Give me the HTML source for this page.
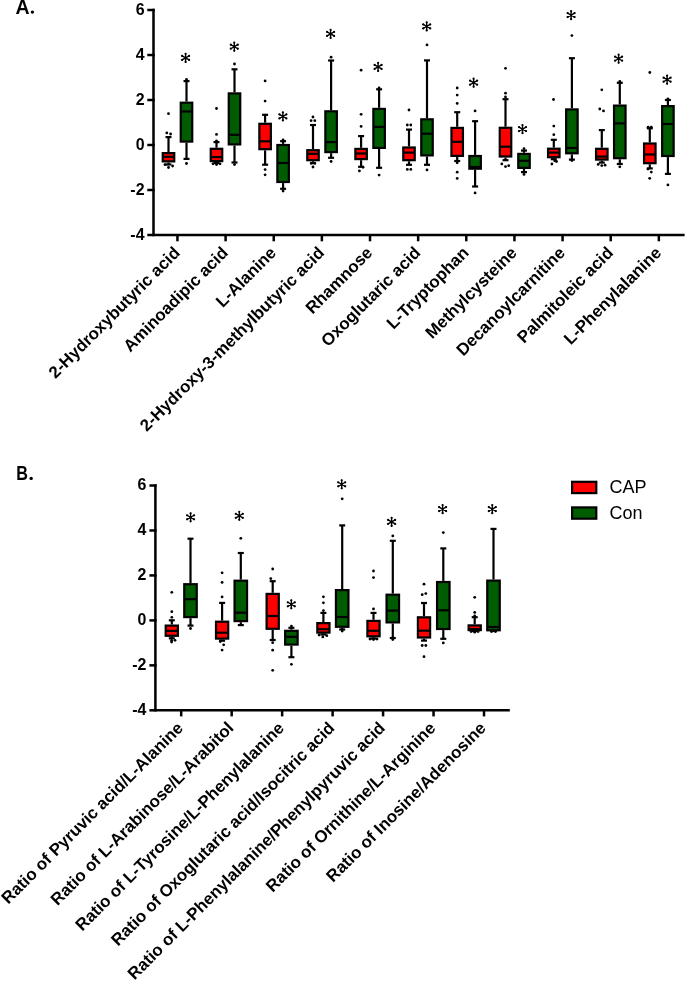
<!DOCTYPE html>
<html><head><meta charset="utf-8"><title>Box plots</title>
<style>
html,body{margin:0;padding:0;background:#fff;}
body{width:685px;height:981px;overflow:hidden;}
svg{display:block;will-change:transform;}
text{font-family:"Liberation Sans",sans-serif;}
.ax path{stroke:#000;stroke-width:2.5;fill:none;stroke-linecap:butt;}
.k{stroke:#000;stroke-width:2.2;}
.ast{stroke:#000;stroke-width:1.35;fill:none;stroke-linecap:round;}
.yt{font-size:16.8px;font-weight:bold;text-anchor:end;}
.xl{font-size:16.9px;font-weight:bold;text-anchor:end;}
.lg{font-size:18px;}
.pl{font-size:19px;font-weight:bold;}
</style></head>
<body>
<svg width="685" height="981" viewBox="0 0 685 981">
<rect width="685" height="981" fill="#fff"/>
<g class="ax">
<path d="M153.5 8.75V235.1H684.6"/>
<path d="M147.3 10H154.7"/>
<path d="M147.3 55H154.7"/>
<path d="M147.3 100H154.7"/>
<path d="M147.3 145H154.7"/>
<path d="M147.3 190H154.7"/>
<path d="M147.3 235H154.7"/>
<path d="M177.45 235V241.3"/>
<path d="M225.59 235V241.3"/>
<path d="M273.73 235V241.3"/>
<path d="M321.87 235V241.3"/>
<path d="M370.01 235V241.3"/>
<path d="M418.15 235V241.3"/>
<path d="M466.29 235V241.3"/>
<path d="M514.43 235V241.3"/>
<path d="M562.57 235V241.3"/>
<path d="M610.71 235V241.3"/>
<path d="M658.85 235V241.3"/>
</g>
<text transform="translate(144.5 14.8) scale(0.95 1)" class="yt">6</text>
<text transform="translate(144.5 59.8) scale(0.95 1)" class="yt">4</text>
<text transform="translate(144.5 104.8) scale(0.95 1)" class="yt">2</text>
<text transform="translate(144.5 149.8) scale(0.95 1)" class="yt">0</text>
<text transform="translate(144.5 194.8) scale(0.95 1)" class="yt">-2</text>
<text transform="translate(144.5 239.8) scale(0.95 1)" class="yt">-4</text>
<line x1="168.5" y1="137.1" x2="168.5" y2="152" class="k"/>
<line x1="168.5" y1="162.5" x2="168.5" y2="164.5" class="k"/>
<line x1="165.5" y1="137.1" x2="171.5" y2="137.1" class="k"/>
<line x1="165.5" y1="164.5" x2="171.5" y2="164.5" class="k"/>
<rect x="162.75" y="153.1" width="11.5" height="8.3" fill="#ff0000" class="k"/>
<line x1="162.75" y1="156.8" x2="174.25" y2="156.8" class="k"/>
<circle cx="166.8" cy="132.9" r="1.4"/>
<circle cx="170.6" cy="134" r="1.4"/>
<circle cx="168.5" cy="113.7" r="1.4"/>
<circle cx="165" cy="164.7" r="1.4"/>
<circle cx="172.6" cy="166" r="1.4"/>
<circle cx="168.5" cy="167.5" r="1.4"/>
<line x1="186.5" y1="81.1" x2="186.5" y2="101.6" class="k"/>
<line x1="186.5" y1="142.7" x2="186.5" y2="158.9" class="k"/>
<line x1="183.5" y1="81.1" x2="189.5" y2="81.1" class="k"/>
<line x1="183.5" y1="158.9" x2="189.5" y2="158.9" class="k"/>
<rect x="180.75" y="102.7" width="11.5" height="38.9" fill="#005c00" class="k"/>
<line x1="180.75" y1="111.5" x2="192.25" y2="111.5" class="k"/>
<circle cx="186.5" cy="79.4" r="1.4"/>
<circle cx="186.5" cy="163.5" r="1.4"/>
<path d="M185.6 61.95L185.6 53.85M182.09 59.92L189.11 55.88M182.09 55.88L189.11 59.92" class="ast"/><circle cx="185.6" cy="61.95" r="1.12"/><circle cx="185.6" cy="53.85" r="1.12"/><circle cx="182.09" cy="59.92" r="1.12"/><circle cx="189.11" cy="55.88" r="1.12"/><circle cx="182.09" cy="55.88" r="1.12"/><circle cx="189.11" cy="59.92" r="1.12"/><circle cx="185.6" cy="57.9" r="1.25"/>
<line x1="216.5" y1="142.1" x2="216.5" y2="147.7" class="k"/>
<line x1="216.5" y1="162.2" x2="216.5" y2="163" class="k"/>
<line x1="213.5" y1="142.1" x2="219.5" y2="142.1" class="k"/>
<line x1="213.5" y1="163" x2="219.5" y2="163" class="k"/>
<rect x="210.75" y="148.8" width="11.5" height="12.3" fill="#ff0000" class="k"/>
<line x1="210.75" y1="157.1" x2="222.25" y2="157.1" class="k"/>
<circle cx="216.5" cy="108.5" r="1.4"/>
<circle cx="216.5" cy="134.4" r="1.4"/>
<circle cx="216.5" cy="140.8" r="1.4"/>
<circle cx="213" cy="163.8" r="1.4"/>
<circle cx="216.5" cy="164.5" r="1.4"/>
<circle cx="220" cy="163.8" r="1.4"/>
<line x1="234.5" y1="69.3" x2="234.5" y2="92.3" class="k"/>
<line x1="234.5" y1="145.5" x2="234.5" y2="162.5" class="k"/>
<line x1="231.5" y1="69.3" x2="237.5" y2="69.3" class="k"/>
<line x1="231.5" y1="162.5" x2="237.5" y2="162.5" class="k"/>
<rect x="228.75" y="93.4" width="11.5" height="51" fill="#005c00" class="k"/>
<line x1="228.75" y1="134.8" x2="240.25" y2="134.8" class="k"/>
<circle cx="234.5" cy="64" r="1.4"/>
<circle cx="234.5" cy="164.6" r="1.4"/>
<path d="M234.3 50.75L234.3 42.65M230.79 48.73L237.81 44.68M230.79 44.68L237.81 48.73" class="ast"/><circle cx="234.3" cy="50.75" r="1.12"/><circle cx="234.3" cy="42.65" r="1.12"/><circle cx="230.79" cy="48.73" r="1.12"/><circle cx="237.81" cy="44.68" r="1.12"/><circle cx="230.79" cy="44.68" r="1.12"/><circle cx="237.81" cy="48.73" r="1.12"/><circle cx="234.3" cy="46.7" r="1.25"/>
<line x1="265.1" y1="114.8" x2="265.1" y2="122.7" class="k"/>
<line x1="265.1" y1="150.3" x2="265.1" y2="164.7" class="k"/>
<line x1="262.1" y1="114.8" x2="268.1" y2="114.8" class="k"/>
<line x1="262.1" y1="164.7" x2="268.1" y2="164.7" class="k"/>
<rect x="259.35" y="123.8" width="11.5" height="25.4" fill="#ff0000" class="k"/>
<line x1="259.35" y1="141.3" x2="270.85" y2="141.3" class="k"/>
<circle cx="265.1" cy="80.9" r="1.4"/>
<circle cx="265.1" cy="101.1" r="1.4"/>
<circle cx="265.1" cy="169.6" r="1.4"/>
<circle cx="265.1" cy="174.8" r="1.4"/>
<line x1="283.1" y1="141.2" x2="283.1" y2="143.9" class="k"/>
<line x1="283.1" y1="183.1" x2="283.1" y2="188.8" class="k"/>
<line x1="280.1" y1="141.2" x2="286.1" y2="141.2" class="k"/>
<line x1="280.1" y1="188.8" x2="286.1" y2="188.8" class="k"/>
<rect x="277.35" y="145" width="11.5" height="37" fill="#005c00" class="k"/>
<line x1="277.35" y1="163" x2="288.85" y2="163" class="k"/>
<circle cx="283.1" cy="139.9" r="1.4"/>
<circle cx="283.1" cy="191" r="1.4"/>
<path d="M282.9 120.45L282.9 112.35M279.39 118.43L286.41 114.38M279.39 114.38L286.41 118.43" class="ast"/><circle cx="282.9" cy="120.45" r="1.12"/><circle cx="282.9" cy="112.35" r="1.12"/><circle cx="279.39" cy="118.43" r="1.12"/><circle cx="286.41" cy="114.38" r="1.12"/><circle cx="279.39" cy="114.38" r="1.12"/><circle cx="286.41" cy="118.43" r="1.12"/><circle cx="282.9" cy="116.4" r="1.25"/>
<line x1="313" y1="125" x2="313" y2="149.1" class="k"/>
<line x1="313" y1="161.3" x2="313" y2="163" class="k"/>
<line x1="310" y1="125" x2="316" y2="125" class="k"/>
<line x1="310" y1="163" x2="316" y2="163" class="k"/>
<rect x="307.25" y="150.2" width="11.5" height="10" fill="#ff0000" class="k"/>
<line x1="307.25" y1="153.8" x2="318.75" y2="153.8" class="k"/>
<circle cx="313" cy="117" r="1.4"/>
<circle cx="311.1" cy="120.7" r="1.4"/>
<circle cx="314.8" cy="120.7" r="1.4"/>
<circle cx="311.3" cy="163.4" r="1.4"/>
<circle cx="314.8" cy="163.4" r="1.4"/>
<circle cx="313" cy="167" r="1.4"/>
<line x1="331.1" y1="60.5" x2="331.1" y2="110.2" class="k"/>
<line x1="331.1" y1="153.2" x2="331.1" y2="157.8" class="k"/>
<line x1="328.1" y1="60.5" x2="334.1" y2="60.5" class="k"/>
<line x1="328.1" y1="157.8" x2="334.1" y2="157.8" class="k"/>
<rect x="325.35" y="111.3" width="11.5" height="40.8" fill="#005c00" class="k"/>
<line x1="325.35" y1="142.1" x2="336.85" y2="142.1" class="k"/>
<circle cx="331.1" cy="57.2" r="1.4"/>
<circle cx="331.1" cy="161.5" r="1.4"/>
<path d="M330.6 37.95L330.6 29.85M327.09 35.92L334.11 31.88M327.09 31.88L334.11 35.92" class="ast"/><circle cx="330.6" cy="37.95" r="1.12"/><circle cx="330.6" cy="29.85" r="1.12"/><circle cx="327.09" cy="35.92" r="1.12"/><circle cx="334.11" cy="31.88" r="1.12"/><circle cx="327.09" cy="31.88" r="1.12"/><circle cx="334.11" cy="35.92" r="1.12"/><circle cx="330.6" cy="33.9" r="1.25"/>
<line x1="361.1" y1="136.1" x2="361.1" y2="147.8" class="k"/>
<line x1="361.1" y1="160.2" x2="361.1" y2="166.8" class="k"/>
<line x1="358.1" y1="136.1" x2="364.1" y2="136.1" class="k"/>
<line x1="358.1" y1="166.8" x2="364.1" y2="166.8" class="k"/>
<rect x="355.35" y="148.9" width="11.5" height="10.2" fill="#ff0000" class="k"/>
<line x1="355.35" y1="153.5" x2="366.85" y2="153.5" class="k"/>
<circle cx="361.1" cy="70.2" r="1.4"/>
<circle cx="361.1" cy="114.3" r="1.4"/>
<circle cx="361.1" cy="126.4" r="1.4"/>
<circle cx="359.4" cy="170.9" r="1.4"/>
<circle cx="363" cy="167.3" r="1.4"/>
<line x1="379.1" y1="89.3" x2="379.1" y2="107.8" class="k"/>
<line x1="379.1" y1="149" x2="379.1" y2="167.8" class="k"/>
<line x1="376.1" y1="89.3" x2="382.1" y2="89.3" class="k"/>
<line x1="376.1" y1="167.8" x2="382.1" y2="167.8" class="k"/>
<rect x="373.35" y="108.9" width="11.5" height="39" fill="#005c00" class="k"/>
<line x1="373.35" y1="126.9" x2="384.85" y2="126.9" class="k"/>
<circle cx="379.1" cy="88" r="1.4"/>
<circle cx="379.1" cy="175.1" r="1.4"/>
<path d="M378.1 70.95L378.1 62.85M374.59 68.93L381.61 64.88M374.59 64.88L381.61 68.93" class="ast"/><circle cx="378.1" cy="70.95" r="1.12"/><circle cx="378.1" cy="62.85" r="1.12"/><circle cx="374.59" cy="68.93" r="1.12"/><circle cx="381.61" cy="64.88" r="1.12"/><circle cx="374.59" cy="64.88" r="1.12"/><circle cx="381.61" cy="68.93" r="1.12"/><circle cx="378.1" cy="66.9" r="1.25"/>
<line x1="409" y1="129.6" x2="409" y2="146.4" class="k"/>
<line x1="409" y1="161.3" x2="409" y2="164.8" class="k"/>
<line x1="406" y1="129.6" x2="412" y2="129.6" class="k"/>
<line x1="406" y1="164.8" x2="412" y2="164.8" class="k"/>
<rect x="403.25" y="147.5" width="11.5" height="12.7" fill="#ff0000" class="k"/>
<line x1="403.25" y1="152.6" x2="414.75" y2="152.6" class="k"/>
<circle cx="409" cy="110" r="1.4"/>
<circle cx="407.3" cy="125" r="1.4"/>
<circle cx="410.8" cy="125" r="1.4"/>
<circle cx="407.3" cy="169.4" r="1.4"/>
<circle cx="410.8" cy="169.4" r="1.4"/>
<line x1="427" y1="60.4" x2="427" y2="118.2" class="k"/>
<line x1="427" y1="156.5" x2="427" y2="164.8" class="k"/>
<line x1="424" y1="60.4" x2="430" y2="60.4" class="k"/>
<line x1="424" y1="164.8" x2="430" y2="164.8" class="k"/>
<rect x="421.25" y="119.3" width="11.5" height="36.1" fill="#005c00" class="k"/>
<line x1="421.25" y1="133.7" x2="432.75" y2="133.7" class="k"/>
<circle cx="427" cy="44.9" r="1.4"/>
<circle cx="427" cy="169.9" r="1.4"/>
<path d="M426.7 30.45L426.7 22.35M423.19 28.42L430.21 24.38M423.19 24.38L430.21 28.42" class="ast"/><circle cx="426.7" cy="30.45" r="1.12"/><circle cx="426.7" cy="22.35" r="1.12"/><circle cx="423.19" cy="28.42" r="1.12"/><circle cx="430.21" cy="24.38" r="1.12"/><circle cx="423.19" cy="24.38" r="1.12"/><circle cx="430.21" cy="28.42" r="1.12"/><circle cx="426.7" cy="26.4" r="1.25"/>
<line x1="457.2" y1="112.2" x2="457.2" y2="126.8" class="k"/>
<line x1="457.2" y1="157" x2="457.2" y2="161" class="k"/>
<line x1="454.2" y1="112.2" x2="460.2" y2="112.2" class="k"/>
<line x1="454.2" y1="161" x2="460.2" y2="161" class="k"/>
<rect x="451.45" y="127.9" width="11.5" height="28" fill="#ff0000" class="k"/>
<line x1="451.45" y1="141.8" x2="462.95" y2="141.8" class="k"/>
<circle cx="457.2" cy="88" r="1.4"/>
<circle cx="457.2" cy="95.1" r="1.4"/>
<circle cx="457.2" cy="103.4" r="1.4"/>
<circle cx="457.2" cy="162.8" r="1.4"/>
<circle cx="457.2" cy="172.2" r="1.4"/>
<circle cx="457.2" cy="178.4" r="1.4"/>
<line x1="475.1" y1="121.2" x2="475.1" y2="154.9" class="k"/>
<line x1="475.1" y1="169.8" x2="475.1" y2="186.5" class="k"/>
<line x1="472.1" y1="121.2" x2="478.1" y2="121.2" class="k"/>
<line x1="472.1" y1="186.5" x2="478.1" y2="186.5" class="k"/>
<rect x="469.35" y="156" width="11.5" height="12.7" fill="#005c00" class="k"/>
<line x1="469.35" y1="167" x2="480.85" y2="167" class="k"/>
<circle cx="475.1" cy="110.9" r="1.4"/>
<circle cx="475.1" cy="192.9" r="1.4"/>
<path d="M473.6 86.75L473.6 78.65M470.09 84.73L477.11 80.67M470.09 80.67L477.11 84.73" class="ast"/><circle cx="473.6" cy="86.75" r="1.12"/><circle cx="473.6" cy="78.65" r="1.12"/><circle cx="470.09" cy="84.73" r="1.12"/><circle cx="477.11" cy="80.67" r="1.12"/><circle cx="470.09" cy="80.67" r="1.12"/><circle cx="477.11" cy="84.73" r="1.12"/><circle cx="473.6" cy="82.7" r="1.25"/>
<line x1="505.5" y1="99.2" x2="505.5" y2="126.7" class="k"/>
<line x1="505.5" y1="157.6" x2="505.5" y2="160.2" class="k"/>
<line x1="502.5" y1="99.2" x2="508.5" y2="99.2" class="k"/>
<line x1="502.5" y1="160.2" x2="508.5" y2="160.2" class="k"/>
<rect x="499.75" y="127.8" width="11.5" height="28.7" fill="#ff0000" class="k"/>
<line x1="499.75" y1="146.7" x2="511.25" y2="146.7" class="k"/>
<circle cx="505.5" cy="68.3" r="1.4"/>
<circle cx="505.5" cy="93.2" r="1.4"/>
<circle cx="505.5" cy="96.9" r="1.4"/>
<circle cx="501.8" cy="163.9" r="1.4"/>
<circle cx="505.5" cy="166.6" r="1.4"/>
<circle cx="508.7" cy="165.7" r="1.4"/>
<line x1="524" y1="150.6" x2="524" y2="152.8" class="k"/>
<line x1="524" y1="169" x2="524" y2="172.1" class="k"/>
<line x1="521" y1="150.6" x2="527" y2="150.6" class="k"/>
<line x1="521" y1="172.1" x2="527" y2="172.1" class="k"/>
<rect x="518.25" y="153.9" width="11.5" height="14" fill="#005c00" class="k"/>
<line x1="518.25" y1="160.8" x2="529.75" y2="160.8" class="k"/>
<circle cx="524" cy="148.7" r="1.4"/>
<circle cx="524" cy="174.4" r="1.4"/>
<path d="M522.5 133.15L522.5 125.05M518.99 131.12L526.01 127.07M518.99 127.07L526.01 131.12" class="ast"/><circle cx="522.5" cy="133.15" r="1.12"/><circle cx="522.5" cy="125.05" r="1.12"/><circle cx="518.99" cy="131.12" r="1.12"/><circle cx="526.01" cy="127.07" r="1.12"/><circle cx="518.99" cy="127.07" r="1.12"/><circle cx="526.01" cy="131.12" r="1.12"/><circle cx="522.5" cy="129.1" r="1.25"/>
<line x1="553.8" y1="139.8" x2="553.8" y2="147.6" class="k"/>
<line x1="553.8" y1="158.3" x2="553.8" y2="159.2" class="k"/>
<line x1="550.8" y1="139.8" x2="556.8" y2="139.8" class="k"/>
<line x1="550.8" y1="159.2" x2="556.8" y2="159.2" class="k"/>
<rect x="548.05" y="148.7" width="11.5" height="8.5" fill="#ff0000" class="k"/>
<line x1="548.05" y1="152.6" x2="559.55" y2="152.6" class="k"/>
<circle cx="553.5" cy="99.5" r="1.4"/>
<circle cx="553.8" cy="126.1" r="1.4"/>
<circle cx="553.8" cy="134.7" r="1.4"/>
<circle cx="551.9" cy="164" r="1.4"/>
<circle cx="554.7" cy="160.8" r="1.4"/>
<circle cx="556.5" cy="161.5" r="1.4"/>
<line x1="571.9" y1="58.2" x2="571.9" y2="108.3" class="k"/>
<line x1="571.9" y1="154.4" x2="571.9" y2="159.6" class="k"/>
<line x1="568.9" y1="58.2" x2="574.9" y2="58.2" class="k"/>
<line x1="568.9" y1="159.6" x2="574.9" y2="159.6" class="k"/>
<rect x="566.15" y="109.4" width="11.5" height="43.9" fill="#005c00" class="k"/>
<line x1="566.15" y1="147.9" x2="577.65" y2="147.9" class="k"/>
<circle cx="571.9" cy="35.6" r="1.4"/>
<circle cx="571.9" cy="160.5" r="1.4"/>
<path d="M571.1 19.15L571.1 11.05M567.59 17.12L574.61 13.07M567.59 13.07L574.61 17.12" class="ast"/><circle cx="571.1" cy="19.15" r="1.12"/><circle cx="571.1" cy="11.05" r="1.12"/><circle cx="567.59" cy="17.12" r="1.12"/><circle cx="574.61" cy="13.07" r="1.12"/><circle cx="567.59" cy="13.07" r="1.12"/><circle cx="574.61" cy="17.12" r="1.12"/><circle cx="571.1" cy="15.1" r="1.25"/>
<line x1="601.8" y1="130.1" x2="601.8" y2="147.7" class="k"/>
<line x1="601.8" y1="160.7" x2="601.8" y2="162.6" class="k"/>
<line x1="598.8" y1="130.1" x2="604.8" y2="130.1" class="k"/>
<line x1="598.8" y1="162.6" x2="604.8" y2="162.6" class="k"/>
<rect x="596.05" y="148.8" width="11.5" height="10.8" fill="#ff0000" class="k"/>
<line x1="596.05" y1="156.6" x2="607.55" y2="156.6" class="k"/>
<circle cx="601.8" cy="89.8" r="1.4"/>
<circle cx="599.8" cy="109" r="1.4"/>
<circle cx="603.5" cy="110.9" r="1.4"/>
<circle cx="598.2" cy="164.4" r="1.4"/>
<circle cx="601.8" cy="165.6" r="1.4"/>
<circle cx="605.1" cy="165.2" r="1.4"/>
<line x1="619.8" y1="82.8" x2="619.8" y2="104.5" class="k"/>
<line x1="619.8" y1="159.3" x2="619.8" y2="164" class="k"/>
<line x1="616.8" y1="82.8" x2="622.8" y2="82.8" class="k"/>
<line x1="616.8" y1="164" x2="622.8" y2="164" class="k"/>
<rect x="614.05" y="105.6" width="11.5" height="52.6" fill="#005c00" class="k"/>
<line x1="614.05" y1="123.4" x2="625.55" y2="123.4" class="k"/>
<circle cx="619.8" cy="81.5" r="1.4"/>
<circle cx="619.8" cy="166.8" r="1.4"/>
<path d="M618.6 62.75L618.6 54.65M615.09 60.73L622.11 56.68M615.09 56.68L622.11 60.73" class="ast"/><circle cx="618.6" cy="62.75" r="1.12"/><circle cx="618.6" cy="54.65" r="1.12"/><circle cx="615.09" cy="60.73" r="1.12"/><circle cx="622.11" cy="56.68" r="1.12"/><circle cx="615.09" cy="56.68" r="1.12"/><circle cx="622.11" cy="60.73" r="1.12"/><circle cx="618.6" cy="58.7" r="1.25"/>
<line x1="649.8" y1="128.3" x2="649.8" y2="142.4" class="k"/>
<line x1="649.8" y1="164.3" x2="649.8" y2="168.4" class="k"/>
<line x1="646.8" y1="128.3" x2="652.8" y2="128.3" class="k"/>
<line x1="646.8" y1="168.4" x2="652.8" y2="168.4" class="k"/>
<rect x="644.05" y="143.5" width="11.5" height="19.7" fill="#ff0000" class="k"/>
<line x1="644.05" y1="154.5" x2="655.55" y2="154.5" class="k"/>
<circle cx="648.2" cy="127.2" r="1.4"/>
<circle cx="651.3" cy="127.2" r="1.4"/>
<circle cx="649.8" cy="72.5" r="1.4"/>
<circle cx="651.3" cy="172.1" r="1.4"/>
<circle cx="648" cy="169.1" r="1.4"/>
<circle cx="649.7" cy="178.3" r="1.4"/>
<line x1="667.9" y1="100" x2="667.9" y2="105" class="k"/>
<line x1="667.9" y1="157.1" x2="667.9" y2="173.9" class="k"/>
<line x1="664.9" y1="100" x2="670.9" y2="100" class="k"/>
<line x1="664.9" y1="173.9" x2="670.9" y2="173.9" class="k"/>
<rect x="662.15" y="106.1" width="11.5" height="49.9" fill="#005c00" class="k"/>
<line x1="662.15" y1="124" x2="673.65" y2="124" class="k"/>
<circle cx="667.9" cy="99" r="1.4"/>
<circle cx="667.9" cy="184.9" r="1.4"/>
<path d="M667.1 83.75L667.1 75.65M663.59 81.73L670.61 77.67M663.59 77.67L670.61 81.73" class="ast"/><circle cx="667.1" cy="83.75" r="1.12"/><circle cx="667.1" cy="75.65" r="1.12"/><circle cx="663.59" cy="81.73" r="1.12"/><circle cx="670.61" cy="77.67" r="1.12"/><circle cx="663.59" cy="77.67" r="1.12"/><circle cx="670.61" cy="81.73" r="1.12"/><circle cx="667.1" cy="79.7" r="1.25"/>
<text transform="translate(180.95 253.8) rotate(-45)" class="xl">2-Hydroxybutyric acid</text>
<text transform="translate(229.09 253.8) rotate(-45)" class="xl">Aminoadipic acid</text>
<text transform="translate(277.23 253.8) rotate(-45)" class="xl">L-Alanine</text>
<text transform="translate(325.37 253.8) rotate(-45)" class="xl">2-Hydroxy-3-methylbutyric acid</text>
<text transform="translate(373.51 253.8) rotate(-45)" class="xl">Rhamnose</text>
<text transform="translate(421.65 253.8) rotate(-45)" class="xl">Oxoglutaric acid</text>
<text transform="translate(469.79 253.8) rotate(-45)" class="xl">L-Tryptophan</text>
<text transform="translate(517.93 253.8) rotate(-45)" class="xl">Methylcysteine</text>
<text transform="translate(566.07 253.8) rotate(-45)" class="xl">Decanoylcarnitine</text>
<text transform="translate(614.21 253.8) rotate(-45)" class="xl">Palmitoleic acid</text>
<text transform="translate(662.35 253.8) rotate(-45)" class="xl">L-Phenylalanine</text>
<g class="ax">
<path d="M155.4 484.25V710.3H509.8"/>
<path d="M149.4 485.52H156.6"/>
<path d="M149.4 530.48H156.6"/>
<path d="M149.4 575.44H156.6"/>
<path d="M149.4 620.4H156.6"/>
<path d="M149.4 665.36H156.6"/>
<path d="M149.4 710.32H156.6"/>
<path d="M181.2 710.3V716.4"/>
<path d="M231.67 710.3V716.4"/>
<path d="M282.14 710.3V716.4"/>
<path d="M332.61 710.3V716.4"/>
<path d="M383.08 710.3V716.4"/>
<path d="M433.55 710.3V716.4"/>
<path d="M484.02 710.3V716.4"/>
</g>
<text transform="translate(146.4 490.32) scale(0.95 1)" class="yt">6</text>
<text transform="translate(146.4 535.28) scale(0.95 1)" class="yt">4</text>
<text transform="translate(146.4 580.24) scale(0.95 1)" class="yt">2</text>
<text transform="translate(146.4 625.2) scale(0.95 1)" class="yt">0</text>
<text transform="translate(146.4 670.16) scale(0.95 1)" class="yt">-2</text>
<text transform="translate(146.4 715.12) scale(0.95 1)" class="yt">-4</text>
<line x1="171.8" y1="620.3" x2="171.8" y2="624.5" class="k"/>
<line x1="171.8" y1="636.9" x2="171.8" y2="638.3" class="k"/>
<line x1="168.8" y1="620.3" x2="174.8" y2="620.3" class="k"/>
<line x1="168.8" y1="638.3" x2="174.8" y2="638.3" class="k"/>
<rect x="165.7" y="625.6" width="12.2" height="10.2" fill="#ff0000" class="k"/>
<line x1="165.7" y1="630.9" x2="177.9" y2="630.9" class="k"/>
<circle cx="171.8" cy="617.3" r="1.4"/>
<circle cx="171.8" cy="592.3" r="1.4"/>
<circle cx="171.8" cy="611.7" r="1.4"/>
<circle cx="171.6" cy="640.3" r="1.4"/>
<circle cx="175" cy="640.3" r="1.4"/>
<circle cx="171.6" cy="642" r="1.4"/>
<line x1="190.5" y1="538.7" x2="190.5" y2="583.1" class="k"/>
<line x1="190.5" y1="618.2" x2="190.5" y2="625.6" class="k"/>
<line x1="187.5" y1="538.7" x2="193.5" y2="538.7" class="k"/>
<line x1="187.5" y1="625.6" x2="193.5" y2="625.6" class="k"/>
<rect x="184.25" y="584.2" width="12.5" height="32.9" fill="#005c00" class="k"/>
<line x1="184.25" y1="599.2" x2="196.75" y2="599.2" class="k"/>
<circle cx="190.5" cy="628.5" r="1.4"/>
<path d="M190.6 521.35L190.6 513.25M187.09 519.32L194.11 515.27M187.09 515.27L194.11 519.32" class="ast"/><circle cx="190.6" cy="521.35" r="1.12"/><circle cx="190.6" cy="513.25" r="1.12"/><circle cx="187.09" cy="519.32" r="1.12"/><circle cx="194.11" cy="515.27" r="1.12"/><circle cx="187.09" cy="515.27" r="1.12"/><circle cx="194.11" cy="519.32" r="1.12"/><circle cx="190.6" cy="517.3" r="1.25"/>
<line x1="222.1" y1="602.9" x2="222.1" y2="620.6" class="k"/>
<line x1="222.1" y1="639.7" x2="222.1" y2="640.7" class="k"/>
<line x1="219.1" y1="602.9" x2="225.1" y2="602.9" class="k"/>
<line x1="219.1" y1="640.7" x2="225.1" y2="640.7" class="k"/>
<rect x="216" y="621.7" width="12.2" height="16.9" fill="#ff0000" class="k"/>
<line x1="216" y1="632.7" x2="228.2" y2="632.7" class="k"/>
<circle cx="222.1" cy="572.8" r="1.4"/>
<circle cx="222.1" cy="582.4" r="1.4"/>
<circle cx="222.1" cy="596.9" r="1.4"/>
<circle cx="220.3" cy="641.5" r="1.4"/>
<circle cx="223.7" cy="644.8" r="1.4"/>
<circle cx="222.1" cy="650.1" r="1.4"/>
<line x1="240.8" y1="553" x2="240.8" y2="579.6" class="k"/>
<line x1="240.8" y1="622.2" x2="240.8" y2="625.1" class="k"/>
<line x1="237.8" y1="553" x2="243.8" y2="553" class="k"/>
<line x1="237.8" y1="625.1" x2="243.8" y2="625.1" class="k"/>
<rect x="234.55" y="580.7" width="12.5" height="40.4" fill="#005c00" class="k"/>
<line x1="234.55" y1="612.7" x2="247.05" y2="612.7" class="k"/>
<circle cx="240.8" cy="538.3" r="1.4"/>
<path d="M239.3 519.85L239.3 511.75M235.79 517.82L242.81 513.77M235.79 513.77L242.81 517.82" class="ast"/><circle cx="239.3" cy="519.85" r="1.12"/><circle cx="239.3" cy="511.75" r="1.12"/><circle cx="235.79" cy="517.82" r="1.12"/><circle cx="242.81" cy="513.77" r="1.12"/><circle cx="235.79" cy="513.77" r="1.12"/><circle cx="242.81" cy="517.82" r="1.12"/><circle cx="239.3" cy="515.8" r="1.25"/>
<line x1="272.7" y1="581.2" x2="272.7" y2="592.8" class="k"/>
<line x1="272.7" y1="629.9" x2="272.7" y2="640" class="k"/>
<line x1="269.7" y1="581.2" x2="275.7" y2="581.2" class="k"/>
<line x1="269.7" y1="640" x2="275.7" y2="640" class="k"/>
<rect x="266.6" y="593.9" width="12.2" height="34.9" fill="#ff0000" class="k"/>
<line x1="266.6" y1="616" x2="278.8" y2="616" class="k"/>
<circle cx="270.8" cy="578.6" r="1.4"/>
<circle cx="272.7" cy="569" r="1.4"/>
<circle cx="272.7" cy="642.7" r="1.4"/>
<circle cx="272.7" cy="650.2" r="1.4"/>
<circle cx="272.7" cy="670.3" r="1.4"/>
<line x1="291.4" y1="627.8" x2="291.4" y2="629.7" class="k"/>
<line x1="291.4" y1="645.7" x2="291.4" y2="657.2" class="k"/>
<line x1="288.4" y1="627.8" x2="294.4" y2="627.8" class="k"/>
<line x1="288.4" y1="657.2" x2="294.4" y2="657.2" class="k"/>
<rect x="285.15" y="630.8" width="12.5" height="13.8" fill="#005c00" class="k"/>
<line x1="285.15" y1="636.8" x2="297.65" y2="636.8" class="k"/>
<circle cx="291.4" cy="626.1" r="1.4"/>
<circle cx="291.4" cy="664.3" r="1.4"/>
<path d="M291.3 608.35L291.3 600.25M287.79 606.32L294.81 602.27M287.79 602.27L294.81 606.32" class="ast"/><circle cx="291.3" cy="608.35" r="1.12"/><circle cx="291.3" cy="600.25" r="1.12"/><circle cx="287.79" cy="606.32" r="1.12"/><circle cx="294.81" cy="602.27" r="1.12"/><circle cx="287.79" cy="602.27" r="1.12"/><circle cx="294.81" cy="606.32" r="1.12"/><circle cx="291.3" cy="604.3" r="1.25"/>
<line x1="323.4" y1="612.9" x2="323.4" y2="622" class="k"/>
<line x1="323.4" y1="633.7" x2="323.4" y2="634.5" class="k"/>
<line x1="320.4" y1="612.9" x2="326.4" y2="612.9" class="k"/>
<line x1="320.4" y1="634.5" x2="326.4" y2="634.5" class="k"/>
<rect x="317.3" y="623.1" width="12.2" height="9.5" fill="#ff0000" class="k"/>
<line x1="317.3" y1="629.2" x2="329.5" y2="629.2" class="k"/>
<circle cx="323.4" cy="610.6" r="1.4"/>
<circle cx="323.4" cy="596.8" r="1.4"/>
<circle cx="323.4" cy="602.8" r="1.4"/>
<circle cx="319.1" cy="635" r="1.4"/>
<circle cx="322.8" cy="636.9" r="1.4"/>
<circle cx="326.8" cy="635.7" r="1.4"/>
<line x1="342.2" y1="525.4" x2="342.2" y2="589" class="k"/>
<line x1="342.2" y1="627.9" x2="342.2" y2="629.5" class="k"/>
<line x1="339.2" y1="525.4" x2="345.2" y2="525.4" class="k"/>
<line x1="339.2" y1="629.5" x2="345.2" y2="629.5" class="k"/>
<rect x="335.95" y="590.1" width="12.5" height="36.7" fill="#005c00" class="k"/>
<line x1="335.95" y1="617" x2="348.45" y2="617" class="k"/>
<circle cx="342.2" cy="631.1" r="1.4"/>
<circle cx="342.2" cy="498.8" r="1.4"/>
<path d="M341.7 488.35L341.7 480.25M338.19 486.32L345.21 482.28M338.19 482.28L345.21 486.32" class="ast"/><circle cx="341.7" cy="488.35" r="1.12"/><circle cx="341.7" cy="480.25" r="1.12"/><circle cx="338.19" cy="486.32" r="1.12"/><circle cx="345.21" cy="482.28" r="1.12"/><circle cx="338.19" cy="482.28" r="1.12"/><circle cx="345.21" cy="486.32" r="1.12"/><circle cx="341.7" cy="484.3" r="1.25"/>
<line x1="373.5" y1="612.9" x2="373.5" y2="619.8" class="k"/>
<line x1="373.5" y1="637.4" x2="373.5" y2="638.5" class="k"/>
<line x1="370.5" y1="612.9" x2="376.5" y2="612.9" class="k"/>
<line x1="370.5" y1="638.5" x2="376.5" y2="638.5" class="k"/>
<rect x="367.4" y="620.9" width="12.2" height="15.4" fill="#ff0000" class="k"/>
<line x1="367.4" y1="630.8" x2="379.6" y2="630.8" class="k"/>
<circle cx="373.5" cy="608.9" r="1.4"/>
<circle cx="373.5" cy="571" r="1.4"/>
<circle cx="373.5" cy="577.6" r="1.4"/>
<circle cx="370" cy="639" r="1.4"/>
<circle cx="373.5" cy="639.5" r="1.4"/>
<circle cx="377" cy="639" r="1.4"/>
<line x1="392.8" y1="540.8" x2="392.8" y2="593.6" class="k"/>
<line x1="392.8" y1="623.5" x2="392.8" y2="638" class="k"/>
<line x1="389.8" y1="540.8" x2="395.8" y2="540.8" class="k"/>
<line x1="389.8" y1="638" x2="395.8" y2="638" class="k"/>
<rect x="386.55" y="594.7" width="12.5" height="27.7" fill="#005c00" class="k"/>
<line x1="386.55" y1="610.6" x2="399.05" y2="610.6" class="k"/>
<circle cx="392.8" cy="535.9" r="1.4"/>
<circle cx="392.8" cy="639.5" r="1.4"/>
<path d="M391.6 525.95L391.6 517.85M388.09 523.92L395.11 519.88M388.09 519.88L395.11 523.92" class="ast"/><circle cx="391.6" cy="525.95" r="1.12"/><circle cx="391.6" cy="517.85" r="1.12"/><circle cx="388.09" cy="523.92" r="1.12"/><circle cx="395.11" cy="519.88" r="1.12"/><circle cx="388.09" cy="519.88" r="1.12"/><circle cx="395.11" cy="523.92" r="1.12"/><circle cx="391.6" cy="521.9" r="1.25"/>
<line x1="424" y1="603" x2="424" y2="616.2" class="k"/>
<line x1="424" y1="638.6" x2="424" y2="640.6" class="k"/>
<line x1="421" y1="603" x2="427" y2="603" class="k"/>
<line x1="421" y1="640.6" x2="427" y2="640.6" class="k"/>
<rect x="417.9" y="617.3" width="12.2" height="20.2" fill="#ff0000" class="k"/>
<line x1="417.9" y1="630.7" x2="430.1" y2="630.7" class="k"/>
<circle cx="424" cy="584.2" r="1.4"/>
<circle cx="422.2" cy="594.7" r="1.4"/>
<circle cx="425.8" cy="593.6" r="1.4"/>
<circle cx="422.2" cy="645.5" r="1.4"/>
<circle cx="425.8" cy="645.5" r="1.4"/>
<circle cx="424" cy="656.7" r="1.4"/>
<line x1="443.3" y1="548.4" x2="443.3" y2="580.9" class="k"/>
<line x1="443.3" y1="630.1" x2="443.3" y2="638.8" class="k"/>
<line x1="440.3" y1="548.4" x2="446.3" y2="548.4" class="k"/>
<line x1="440.3" y1="638.8" x2="446.3" y2="638.8" class="k"/>
<rect x="437.05" y="582" width="12.5" height="47" fill="#005c00" class="k"/>
<line x1="437.05" y1="610.3" x2="449.55" y2="610.3" class="k"/>
<circle cx="443.3" cy="532.6" r="1.4"/>
<circle cx="443.3" cy="642.9" r="1.4"/>
<path d="M442.6 513.15L442.6 505.05M439.09 511.12L446.11 507.08M439.09 507.08L446.11 511.12" class="ast"/><circle cx="442.6" cy="513.15" r="1.12"/><circle cx="442.6" cy="505.05" r="1.12"/><circle cx="439.09" cy="511.12" r="1.12"/><circle cx="446.11" cy="507.08" r="1.12"/><circle cx="439.09" cy="507.08" r="1.12"/><circle cx="446.11" cy="511.12" r="1.12"/><circle cx="442.6" cy="509.1" r="1.25"/>
<line x1="474.7" y1="617.2" x2="474.7" y2="624.3" class="k"/>
<line x1="474.7" y1="631.2" x2="474.7" y2="631" class="k"/>
<line x1="471.7" y1="617.2" x2="477.7" y2="617.2" class="k"/>
<line x1="471.7" y1="631" x2="477.7" y2="631" class="k"/>
<rect x="468.6" y="625.4" width="12.2" height="4.7" fill="#ff0000" class="k"/>
<line x1="468.6" y1="629.2" x2="480.8" y2="629.2" class="k"/>
<circle cx="474.7" cy="597.3" r="1.4"/>
<circle cx="474.7" cy="612.4" r="1.4"/>
<circle cx="474.7" cy="616" r="1.4"/>
<circle cx="471.1" cy="631.6" r="1.4"/>
<circle cx="474.7" cy="632.2" r="1.4"/>
<circle cx="478.1" cy="631.6" r="1.4"/>
<line x1="493.5" y1="528.9" x2="493.5" y2="579.5" class="k"/>
<line x1="493.5" y1="631.4" x2="493.5" y2="631" class="k"/>
<line x1="490.5" y1="528.9" x2="496.5" y2="528.9" class="k"/>
<line x1="490.5" y1="631" x2="496.5" y2="631" class="k"/>
<rect x="487.25" y="580.6" width="12.5" height="49.7" fill="#005c00" class="k"/>
<line x1="487.25" y1="627" x2="499.75" y2="627" class="k"/>
<circle cx="491.5" cy="631.5" r="1.4"/>
<circle cx="495.5" cy="631.5" r="1.4"/>
<path d="M492.3 513.15L492.3 505.05M488.79 511.12L495.81 507.08M488.79 507.08L495.81 511.12" class="ast"/><circle cx="492.3" cy="513.15" r="1.12"/><circle cx="492.3" cy="505.05" r="1.12"/><circle cx="488.79" cy="511.12" r="1.12"/><circle cx="495.81" cy="507.08" r="1.12"/><circle cx="488.79" cy="507.08" r="1.12"/><circle cx="495.81" cy="511.12" r="1.12"/><circle cx="492.3" cy="509.1" r="1.25"/>
<text transform="translate(184.2 729) rotate(-45)" class="xl">Ratio of Pyruvic acid/L-Alanine</text>
<text transform="translate(234.67 729) rotate(-45)" class="xl">Ratio of L-Arabinose/L-Arabitol</text>
<text transform="translate(285.14 729) rotate(-45)" class="xl">Ratio of L-Tyrosine/L-Phenylalanine</text>
<text transform="translate(335.61 729) rotate(-45)" class="xl">Ratio of Oxoglutaric acid/Isocitric acid</text>
<text transform="translate(386.08 729) rotate(-45)" class="xl">Ratio of L-Phenylalanine/Phenylpyruvic acid</text>
<text transform="translate(436.55 729) rotate(-45)" class="xl">Ratio of Ornithine/L-Arginine</text>
<text transform="translate(487.02 729) rotate(-45)" class="xl">Ratio of Inosine/Adenosine</text>
<rect x="572.1" y="481.8" width="24.2" height="11.3" fill="#ff0000" class="k"/>
<rect x="572.1" y="507.4" width="24.2" height="11.3" fill="#005c00" class="k"/>
<text x="609.5" y="493.3" class="lg">CAP</text>
<text x="609.5" y="519" class="lg">Con</text>
<text transform="translate(15.5 13.8) scale(0.95 1)" class="pl" style="font-size:20.6px">A</text><circle cx="32.4" cy="12.1" r="1.7"/>
<text transform="translate(16.3 479.9) scale(0.81 1)" class="pl" style="font-size:20px">B</text><circle cx="31.15" cy="478.4" r="1.7"/>
</svg>
</body></html>
